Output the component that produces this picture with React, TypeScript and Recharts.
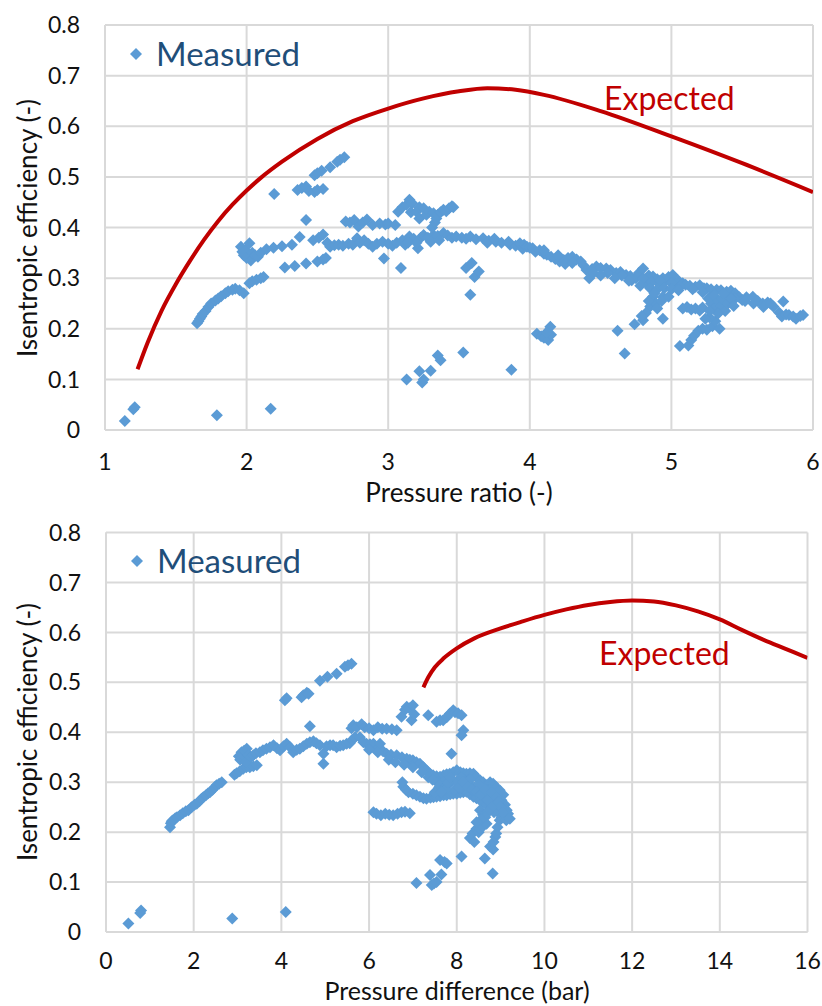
import React from 'react';
import { ScatterChart, Scatter, XAxis, YAxis, CartesianGrid } from 'recharts';

// ---------- Top chart: efficiency vs pressure ratio ----------
const ratioTicks = [1, 2, 3, 4, 5, 6];
const effTicks = [0, 0.1, 0.2, 0.3, 0.4, 0.5, 0.6, 0.7, 0.8];
const diffTicks = [0, 2, 4, 6, 8, 10, 12, 14, 16];

const ratioMeasured: [number, number][] = [
  [1.14,0.018],[1.2,0.041],[1.21,0.045],[1.79,0.029],[2.17,0.042],
  [3.13,0.1],[3.22,0.116],[3.24,0.094],[3.25,0.1],[3.3,0.117],[3.35,0.147],[3.37,0.138],[3.53,0.153],[3.87,0.119],
  [4.05,0.19],[4.08,0.185],[4.1,0.182],[4.13,0.178],[4.15,0.188],[4.145,0.204],[4.12,0.193],
  [4.62,0.196],[4.67,0.151],[4.74,0.209],[4.8,0.217],[4.94,0.22],
  [5.06,0.166],[5.12,0.167],[5.14,0.178],[5.16,0.186],[5.19,0.196],[5.22,0.2],[5.25,0.198],[5.29,0.205],[5.34,0.2],[5.31,0.215],[5.27,0.222],
  [1.65,0.211],[1.66,0.215],[1.67,0.22],[1.68,0.224],[1.69,0.229],[1.71,0.235],[1.73,0.243],[1.75,0.25],[1.78,0.256],[1.8,0.26],[1.82,0.264],[1.85,0.27],[1.87,0.274],[1.9,0.277],[1.92,0.279],[1.95,0.276],[1.98,0.27],[2.02,0.29],[2.04,0.294],[2.07,0.297],[2.1,0.3],[2.12,0.302],
  [1.96,0.362],[1.97,0.352],[1.98,0.345],[1.99,0.355],[2.0,0.34],[2.02,0.369],[2.03,0.335],[2.04,0.35],[2.06,0.345],[2.08,0.342],[2.1,0.35],[2.14,0.357],[2.19,0.36],[2.25,0.363],[2.32,0.366],[2.375,0.381],[2.42,0.415],[2.47,0.375],[2.51,0.38],[2.54,0.386],[2.57,0.37],[2.59,0.362],[2.62,0.365],
  [2.27,0.321],[2.34,0.324],[2.42,0.329],[2.5,0.333],[2.54,0.337],[2.56,0.34],
  [2.195,0.466],[2.36,0.474],[2.39,0.478],[2.42,0.481],[2.44,0.472],[2.48,0.47],[2.5,0.474],[2.54,0.476],[2.48,0.503],[2.5,0.507],[2.53,0.512],[2.59,0.519],[2.64,0.53],[2.66,0.534],[2.69,0.539],
  [2.65,0.366],[2.68,0.364],[2.72,0.368],[2.75,0.366],[2.78,0.379],[2.8,0.37],[2.83,0.375],[2.86,0.368],[2.89,0.362],[2.92,0.368],[2.96,0.372],[2.97,0.339],[3.0,0.368],[3.03,0.364],[3.06,0.37],[3.09,0.32],[3.1,0.375],[3.12,0.366],[3.15,0.382],[3.18,0.378],[3.21,0.359],[3.23,0.38],[3.25,0.385],[3.28,0.38],[3.32,0.385],[3.35,0.383],[3.39,0.389],[3.42,0.384],[3.45,0.38],[3.48,0.382],[3.52,0.38],[3.55,0.378],[3.58,0.382],[3.62,0.377],[3.67,0.379],[3.71,0.374],[3.76,0.372],[3.8,0.37],[3.86,0.366],[3.9,0.364],
  [3.14,0.37],[3.2,0.37],[3.3,0.372],[3.36,0.375],[3.7,0.37],[3.75,0.378],[3.85,0.372],[3.95,0.358],
  [2.7,0.412],[2.73,0.41],[2.76,0.415],[2.79,0.402],[2.82,0.41],[2.85,0.416],[2.89,0.405],[2.94,0.408],[2.98,0.406],[3.0,0.408],[3.05,0.405],
  [3.31,0.4],[3.33,0.41],[3.34,0.418],
  [3.07,0.431],[3.1,0.44],[3.13,0.445],[3.15,0.455],[3.17,0.448],[3.16,0.43],[3.2,0.431],[3.22,0.418],[3.22,0.44],[3.25,0.438],[3.27,0.425],[3.29,0.431],[3.32,0.428],[3.35,0.425],[3.37,0.43],[3.39,0.435],[3.41,0.432],[3.43,0.438],[3.45,0.442],[3.46,0.44],
  [3.55,0.32],[3.59,0.33],[3.61,0.302],[3.64,0.313],[3.58,0.267],
  [3.93,0.369],[3.96,0.366],[3.98,0.362],[4.0,0.36],[4.02,0.359],[4.04,0.352],[4.07,0.355],[4.1,0.348],[4.12,0.346],[4.15,0.342],[4.18,0.338],[4.21,0.333],[4.24,0.336],[4.27,0.34],[4.3,0.342],[4.33,0.337],[4.36,0.333],[4.38,0.325],[4.4,0.316],[4.42,0.3],[4.44,0.318],[4.47,0.323],[4.5,0.32],[4.54,0.319],[4.57,0.316],[4.61,0.31],[4.64,0.312],[4.68,0.306],[4.71,0.304],[4.75,0.3],[4.77,0.31],[4.8,0.319],[4.82,0.29],[4.84,0.305],[4.87,0.303],[4.9,0.298],[4.92,0.287],[4.94,0.3],[4.96,0.296],[4.98,0.302],[5.01,0.306],[5.03,0.29],[5.05,0.295],[5.08,0.29],[5.1,0.287],[5.13,0.285],[5.17,0.283],[5.2,0.286],[5.23,0.28],[5.25,0.28],[5.28,0.278],[5.32,0.277],[5.35,0.276],[5.39,0.273],[5.42,0.275],[5.45,0.27],[5.48,0.262],[5.5,0.257],[5.53,0.262],[5.575,0.263],[5.61,0.255],[5.645,0.25],[5.68,0.252],[5.72,0.244],[5.76,0.232],[5.79,0.254],[5.78,0.224],[5.81,0.228],[5.83,0.227],[5.86,0.224],[5.88,0.22],[5.91,0.225],[5.93,0.227],
  [4.1,0.355],[4.2,0.345],[4.25,0.328],[4.3,0.33],[4.45,0.31],[4.55,0.31],[4.65,0.305],[4.72,0.296],[4.8,0.3],[4.86,0.292],[4.92,0.295],[5.0,0.29],[5.06,0.283],[5.15,0.278],[5.22,0.272],[5.3,0.27],[5.38,0.265],[5.45,0.26],[5.52,0.255],[5.58,0.25],[5.65,0.243],[5.7,0.25],
  [4.5,0.305],[4.6,0.3],[4.7,0.295],[4.78,0.285],[4.85,0.28],[4.9,0.278],[4.95,0.28],[5.0,0.278],[5.05,0.276],
  [4.87,0.263],[4.85,0.244],[4.82,0.231],[4.89,0.25],[4.94,0.263],[4.98,0.263],[4.9,0.24],[4.93,0.255],[4.88,0.27],[4.84,0.255],[4.79,0.225],
  [5.08,0.24],[5.11,0.243],[5.14,0.238],[5.17,0.24],[5.2,0.236],[5.22,0.242],
  [5.26,0.26],[5.28,0.25],[5.3,0.24],[5.3,0.265],[5.33,0.255],[5.35,0.245],[5.36,0.26],[5.38,0.235],[5.4,0.25],[5.42,0.26],[5.44,0.245],[5.33,0.23],[5.37,0.27],[5.27,0.235],[5.24,0.22],
];

const ratioExpected: [number, number][] = [
  [1.23,0.12],[1.3,0.172],[1.4,0.236],[1.5,0.288],[1.6,0.334],[1.7,0.376],[1.8,0.413],[1.9,0.445],[2.0,0.473],[2.1,0.498],[2.25,0.53],[2.5,0.575],[2.75,0.61],[3.0,0.635],[3.25,0.655],[3.5,0.669],[3.7,0.675],[3.9,0.672],[4.1,0.662],[4.5,0.63],[5.0,0.58],[5.5,0.527],[6.0,0.47],
];

// ---------- Bottom chart: efficiency vs pressure difference ----------
const diffMeasured: [number, number][] = [
  [0.51,0.017],[0.78,0.038],[0.8,0.043],[2.88,0.027],[4.1,0.04],
  [7.08,0.098],[7.39,0.114],[7.43,0.094],[7.48,0.097],[7.54,0.1],[7.62,0.144],[7.65,0.115],[7.72,0.14],[7.77,0.137],
  [8.11,0.151],[8.64,0.147],[8.82,0.117],
  [8.3,0.188],[8.36,0.197],[8.4,0.18],[8.45,0.207],[8.5,0.2],[8.53,0.208],[8.6,0.212],[8.68,0.217],[8.76,0.171],[8.83,0.165],[8.84,0.18],[8.88,0.19],[8.9,0.197],[8.93,0.21],[8.98,0.224],[9.02,0.23],[9.13,0.224],[9.17,0.237],[9.06,0.254],[9.1,0.245],
  [1.46,0.21],[1.48,0.218],[1.5,0.222],[1.53,0.224],[1.58,0.228],[1.62,0.23],[1.69,0.234],[1.75,0.238],[1.82,0.242],[1.88,0.244],[1.95,0.25],[2.02,0.255],[2.07,0.257],[2.13,0.262],[2.18,0.267],[2.22,0.27],[2.28,0.274],[2.33,0.278],[2.37,0.28],[2.43,0.285],[2.48,0.29],[2.52,0.294],[2.58,0.297],[2.64,0.3],[2.93,0.315],[2.98,0.318],[3.05,0.322],[3.13,0.327],[3.2,0.33],[3.28,0.33],[3.36,0.332],[3.44,0.334],
  [3.03,0.352],[3.06,0.345],[3.09,0.36],[3.12,0.355],[3.15,0.363],[3.21,0.367],[3.2,0.34],[3.25,0.355],[3.3,0.35],[3.36,0.354],[3.42,0.358],[3.51,0.36],[3.58,0.364],[3.66,0.367],[3.74,0.37],[3.82,0.374],[3.9,0.368],[3.97,0.364],[4.05,0.372],[4.12,0.377],[4.2,0.37],[4.27,0.36],[4.35,0.365],[4.42,0.367],[4.5,0.372],[4.58,0.377],[4.65,0.38],[4.73,0.382],[4.8,0.378],[4.88,0.374],[4.96,0.337],[4.96,0.357],[5.03,0.372],[5.11,0.374],[5.18,0.374],[5.26,0.37],[5.34,0.373],[5.41,0.374],[5.49,0.377],[5.56,0.378],[5.62,0.385],[5.68,0.39],[5.79,0.39],[5.87,0.38],[5.94,0.377],[6.02,0.376],[6.1,0.377],[6.17,0.364],[6.25,0.377],[6.32,0.362],[6.4,0.357],[6.5,0.355],[6.63,0.354],[6.75,0.35],[6.86,0.347],[6.93,0.345],[7.0,0.344],[7.08,0.34],[7.16,0.337],[7.24,0.33],[7.31,0.324],[7.38,0.318],[7.46,0.314],[7.54,0.312],[7.62,0.311],[7.7,0.314],[7.77,0.316],[7.84,0.317],[7.92,0.32],[8.0,0.324],[8.08,0.32],[8.15,0.318],[8.22,0.317],[8.3,0.318],[8.38,0.317],[8.45,0.31],[8.53,0.304],[8.6,0.3],[8.68,0.294],[8.76,0.3],[8.83,0.297],[8.9,0.29],[8.98,0.284],[9.02,0.264],[9.06,0.275],[9.1,0.255],[9.14,0.244],[9.21,0.227],
  [6.0,0.365],[6.2,0.36],[6.45,0.345],[6.6,0.34],[6.8,0.335],[7.0,0.33],[7.2,0.32],[7.35,0.31],
  [5.6,0.408],[5.64,0.414],[5.72,0.41],[5.83,0.416],[5.9,0.41],[6.0,0.408],[6.1,0.404],[6.2,0.41],[6.3,0.407],[6.4,0.407],[6.52,0.406],[6.63,0.404],[4.65,0.412],
  [4.08,0.464],[4.12,0.468],[4.46,0.47],[4.5,0.474],[4.58,0.479],[4.62,0.477],[4.88,0.503],[5.05,0.511],[5.26,0.517],[5.45,0.531],[5.52,0.534],[5.6,0.537],
  [6.74,0.431],[6.82,0.445],[6.86,0.451],[6.92,0.448],[7.0,0.454],[6.97,0.424],[7.03,0.436],[7.35,0.434],[7.54,0.421],[7.62,0.424],[7.69,0.424],[7.77,0.43],[7.84,0.437],[7.92,0.444],[7.96,0.44],[8.03,0.438],[8.11,0.434],[8.15,0.404],[8.11,0.394],[7.88,0.357],
  [6.78,0.291],[6.84,0.285],[6.9,0.28],[7.0,0.277],[7.08,0.274],[7.16,0.271],[7.24,0.268],[7.31,0.267],[7.4,0.269],[7.47,0.27],[7.54,0.271],[7.62,0.272],[7.7,0.274],[7.77,0.274],[7.85,0.276],[7.92,0.277],[8.0,0.277],[8.08,0.279],[8.15,0.28],[8.22,0.281],[8.3,0.276],[8.38,0.271],[8.45,0.268],[8.53,0.264],[8.6,0.26],[8.68,0.254],[8.76,0.244],[8.53,0.244],[8.6,0.235],
  [7.6,0.29],[7.7,0.3],[7.8,0.295],[7.9,0.305],[8.0,0.3],[8.1,0.31],[8.2,0.3],[8.3,0.295],[8.4,0.29],[8.5,0.285],[8.6,0.28],[8.7,0.275],[8.8,0.27],[8.85,0.26],[8.9,0.25],[8.95,0.24],[8.7,0.265],[8.75,0.285],[8.5,0.295],[8.3,0.305],[8.1,0.29],[7.95,0.285],[7.75,0.285],[7.55,0.3],[7.45,0.305],[6.76,0.3],
  [7.5,0.28],[7.65,0.28],[7.8,0.3],[7.85,0.31],[8.05,0.29],[8.15,0.3],[8.25,0.29],[8.35,0.285],[8.45,0.28],[8.55,0.275],[8.65,0.285],[8.8,0.28],[8.9,0.27],[8.95,0.26],[9.0,0.25],[9.05,0.24],[8.85,0.24],[8.8,0.25],[8.7,0.24],[8.65,0.23],[8.55,0.225],[8.45,0.22],
  [6.1,0.24],[6.17,0.237],[6.27,0.234],[6.37,0.237],[6.46,0.235],[6.55,0.234],[6.65,0.237],[6.74,0.24],[6.82,0.241],[6.93,0.238],
];

const diffExpected: [number, number][] = [
  [7.24,0.49],[7.35,0.51],[7.5,0.53],[7.7,0.548],[8.0,0.568],[8.4,0.588],[9.0,0.608],[9.5,0.622],[10.0,0.635],[10.5,0.646],[11.0,0.655],[11.5,0.661],[12.0,0.664],[12.5,0.662],[13.0,0.654],[13.5,0.642],[14.0,0.626],[14.5,0.605],[15.0,0.585],[15.5,0.567],[16.0,0.549],
];

const toXY = (arr: [number, number][]) => arr.map(([x, y]) => ({ x, y }));

const BLUE = '#5B9BD5';
const RED = '#C00000';
const GRID = '#D9D9D9';
const FONT = 'Lato, "Noto Sans", sans-serif';
const R = 6;

const Diamond = (props: any) => {
  const { cx, cy } = props;
  if (cx == null || cy == null) return <g />;
  return <path d={`M${cx},${cy - R}L${cx + R},${cy}L${cx},${cy + R}L${cx - R},${cy}Z`} fill={BLUE} />;
};
const NoShape = () => <g />;

const tickStyle = { fontSize: 23, fill: '#111', fontFamily: FONT };

function Panel(props: {
  measured: [number, number][];
  expected: [number, number][];
  domain: [number, number];
  ticks: number[];
  height: number;
  margin: any;
  yWidth: number;
  xTickMargin: number;
}) {
  const { measured, expected, domain, ticks, height, margin, yWidth, xTickMargin } = props;
  return (
    <ScatterChart width={822} height={height} margin={margin}>
      <CartesianGrid stroke={GRID} strokeWidth={2} />
      <XAxis
        type="number"
        dataKey="x"
        domain={domain}
        ticks={ticks}
        allowDataOverflow
        tickSize={0}
        tickMargin={xTickMargin}
        height={55}
        axisLine={{ stroke: GRID, strokeWidth: 2 }}
        tickLine={false}
        tick={tickStyle}
      />
      <YAxis
        type="number"
        dataKey="y"
        domain={[0, 0.8]}
        ticks={effTicks}
        allowDataOverflow
        width={yWidth}
        tickSize={0}
        tickMargin={25}
        axisLine={{ stroke: GRID, strokeWidth: 2 }}
        tickLine={false}
        tick={tickStyle}
      />
      <Scatter data={toXY(measured)} shape={Diamond} isAnimationActive={false} />
      <Scatter
        data={toXY(expected)}
        shape={NoShape}
        line={{ stroke: RED, strokeWidth: 4, fill: 'none' }}
        lineType="joint"
        lineJointType="monotoneX"
        isAnimationActive={false}
      />
    </ScatterChart>
  );
}

const legendDiamond = (cx: number, cy: number) =>
  `M${cx},${cy - R}L${cx + R},${cy}L${cx},${cy + R}L${cx - R},${cy}Z`;

export default function App() {
  return (
    <div style={{ position: 'absolute', left: 0, top: 0, width: 822, height: 1006, background: '#fff', overflow: 'hidden', fontFamily: FONT }}>
      <div style={{ position: 'absolute', left: 0, top: 0 }}>
        <Panel
          measured={ratioMeasured}
          expected={ratioExpected}
          domain={[1, 6]}
          ticks={ratioTicks}
          height={505}
          margin={{ top: 25, right: 9, left: 0, bottom: 20 }}
          yWidth={105}
          xTickMargin={24}
        />
      </div>
      <div style={{ position: 'absolute', left: 0, top: 505 }}>
        <Panel
          measured={diffMeasured}
          expected={diffExpected}
          domain={[0, 16]}
          ticks={diffTicks}
          height={501}
          margin={{ top: 27.5, right: 14.5, left: 0, bottom: 19 }}
          yWidth={106}
          xTickMargin={21}
        />
      </div>
      <svg width={822} height={1006} style={{ position: 'absolute', left: 0, top: 0, pointerEvents: 'none' }}>
        <g fontFamily={FONT}>
          <path d={legendDiamond(136, 54)} fill={BLUE} />
          <text x={156} y={66} fontSize={33} fill="#1F4E79">Measured</text>
          <text x={604} y={110} fontSize={32} fill={RED}>Expected</text>
          <text x={459} y={502} fontSize={26} fill="#111" textAnchor="middle">Pressure ratio (-)</text>
          <text x={37} y={228} fontSize={26} fill="#111" textAnchor="middle" transform="rotate(-90, 37, 228)">Isentropic efficiency (-)</text>

          <path d={legendDiamond(137, 561)} fill={BLUE} />
          <text x={157} y={573} fontSize={33} fill="#1F4E79">Measured</text>
          <text x={599} y={665} fontSize={32} fill={RED}>Expected</text>
          <text x={457} y={1000} fontSize={25} fill="#111" textAnchor="middle">Pressure difference (bar)</text>
          <text x={37} y={732} fontSize={26} fill="#111" textAnchor="middle" transform="rotate(-90, 37, 732)">Isentropic efficiency (-)</text>
        </g>
      </svg>
    </div>
  );
}
